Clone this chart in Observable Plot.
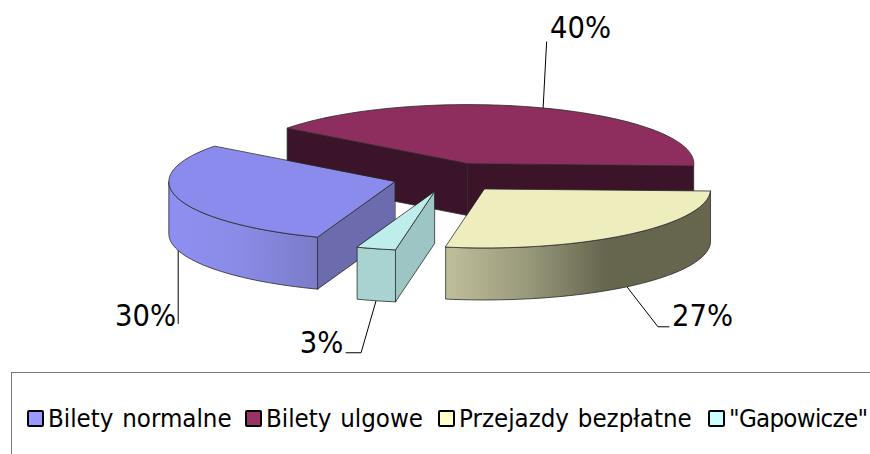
<!DOCTYPE html>
<html>
<head>
<meta charset="utf-8">
<script src="https://cdn.jsdelivr.net/npm/d3@7"></script>
<script src="https://cdn.jsdelivr.net/npm/@observablehq/plot@0.6"></script>
<style>
html,body{margin:0;padding:0;background:#fff;overflow:hidden;width:870px;height:454px}
#legend{position:absolute;left:11px;top:372px;width:900px;height:90px;box-sizing:border-box;border:1px solid #777;font-family:"DejaVu Sans Condensed","DejaVu Sans",sans-serif;font-size:25.6px;word-spacing:1.5px;color:#000}
.it{position:absolute;top:28px;display:flex;align-items:center;white-space:nowrap;line-height:34px}
.it:last-child{letter-spacing:-0.7px}
.sw{width:13px;height:13px;border:2px solid #000;border-radius:2px;margin-right:4px;flex:none}
svg{display:block}
</style>
</head>
<body>
<div id="chart"></div>
<div id="legend"></div>
<script>
const categories = ["Bilety normalne", "Bilety ulgowe", "Przejazdy bezpłatne", "\"Gapowicze\""];
const shares = [29.7, 40.3, 27.2, 2.8];
const labels = ["30%", "40%", "27%", "3%"];
const legendColors = ["#9999FF", "#993366", "#FFFFCC", "#CCFFFF"];
const topColors = ["#8B8BEE", "#8E2E5E", "#EDEDBE", "#BDEEEC"];
const cutColors = ["#6B6BAE", "#3C142A", "#66664F", "#9DC5C4"];

// layout of the tilted pie
const W = 870, H = 372;
const cx = 448.5, cy = 177, rx = 226, ry = 59, depth = 52, explode = 0.25, startDeg = 200;
const labelAt = [[145, 316], [580, 28], [702, 316], [321, 343]];
const leaderBends = [[[0, 73]], [[3.5, -66]], [[31, 40], [42, 40]], [[-15, 52], [-30, 52]]];
const legendLeft = [15, 233, 426, 696];

const rad = d => d * Math.PI / 180;
const at = (c, deg, r = 1) => [c[0] + rx * r * Math.sin(rad(deg)), c[1] - ry * r * Math.cos(rad(deg))];
const total = d3.sum(shares);
let acc = startDeg;
const slices = shares.map((v, i) => {
  const a0 = acc, a1 = acc + v / total * 360;
  acc = a1;
  const mid = (a0 + a1) / 2;
  const apex = at([cx, cy], mid, explode);
  return {i, a0, a1, mid, apex};
});
const arc = (c, a, b, dy = 0) => {
  const n = Math.max(2, Math.ceil(Math.abs(b - a) / 2));
  return d3.range(n + 1).map(k => {
    const p = at(c, a + (b - a) * k / n);
    return [p[0], p[1] + dy];
  });
};
const down = (p, d = depth) => [p[0], p[1] + d];
const edge = "#2a2a2a";
const faces = [];
const face = (pts, fill) => faces.push({pts, fill});

// visible wall of a slice between two rim angles (front half of the rim)
const wall = (s, a, b, fill) => face([...arc(s.apex, a, b), ...arc(s.apex, b, a, depth)], fill);
const cut = (s, deg, fill) => {
  const p = at(s.apex, deg);
  face([s.apex, p, down(p), down(s.apex)], fill);
};
const topFace = (s, fill) => face([s.apex, ...arc(s.apex, s.a0, s.a1)], fill);

const [blue, maroon, yellow, gap] = slices;
// back slice
cut(maroon, maroon.a0, cutColors[1]);
cut(maroon, maroon.a1, cutColors[1]);
topFace(maroon, topColors[1]);
// left slice
wall(blue, blue.a0, 270, "url(#gBlue)");
cut(blue, blue.a0, cutColors[0]);
topFace(blue, topColors[0]);
// right slice
wall(yellow, yellow.a0, yellow.a1, "url(#gYellow)");
topFace(yellow, topColors[2]);
// small slice
wall(gap, gap.a0, gap.a1, "#A8D3D1");
cut(gap, gap.a0, cutColors[3]);
topFace(gap, topColors[3]);

const defsMark = () => {
  const ns = "http://www.w3.org/2000/svg";
  const defs = document.createElementNS(ns, "defs");
  const grad = (id, stops) => {
    const g = document.createElementNS(ns, "linearGradient");
    g.setAttribute("id", id);
    stops.forEach(([o, c]) => {
      const s = document.createElementNS(ns, "stop");
      s.setAttribute("offset", o);
      s.setAttribute("stop-color", c);
      g.appendChild(s);
    });
    defs.appendChild(g);
  };
  grad("gBlue", [[0, "#8F8FF2"], [0.5, "#8A8AE6"], [1, "#7B7BC8"]]);
  grad("gYellow", [[0, "#BFBF9C"], [0.3, "#9A9A7C"], [0.6, "#66664F"], [1, "#66664F"]]);
  return defs;
};

const leaders = slices.map(s => {
  const rim = at(s.apex, s.mid);
  const st = s.i === 1 ? rim : down(rim);
  return [st, ...leaderBends[s.i].map(o => [st[0] + o[0], st[1] + o[1]])];
});
const leaderRows = leaders.flatMap((pts, i) => pts.map(p => ({i, x: p[0], y: p[1]})));
const labelRows = labels.map((t, i) => ({t, x: labelAt[i][0], y: labelAt[i][1]}));

const plot = Plot.plot({
  width: W, height: H, margin: 0,
  x: {domain: [0, W], range: [0, W], axis: null},
  y: {domain: [0, H], range: [0, H], axis: null},
  marks: [
    defsMark,
    Plot.line(leaderRows, {x: "x", y: "y", z: "i", stroke: "#000", strokeWidth: 1}),
    ...faces.map(f => Plot.line(f.pts, {
      x: d => d[0], y: d => d[1], curve: "linear-closed",
      fill: f.fill, stroke: edge, strokeWidth: 0.8, strokeLinejoin: "round"
    })),
    Plot.text(labelRows, {
      x: "x", y: "y", text: "t", textAnchor: "middle", lineAnchor: "middle",
      fontFamily: "'DejaVu Sans Condensed','DejaVu Sans',sans-serif", fontSize: 30.5, fill: "#000"
    })
  ]
});
document.getElementById("chart").appendChild(plot);

const lg = document.getElementById("legend");
categories.forEach((c, i) => {
  const it = document.createElement("div");
  it.className = "it";
  it.style.left = legendLeft[i] + "px";
  const sw = document.createElement("span");
  sw.className = "sw";
  sw.style.background = legendColors[i];
  const tx = document.createElement("span");
  tx.textContent = c;
  it.append(sw, tx);
  lg.appendChild(it);
});
</script>
</body>
</html>
